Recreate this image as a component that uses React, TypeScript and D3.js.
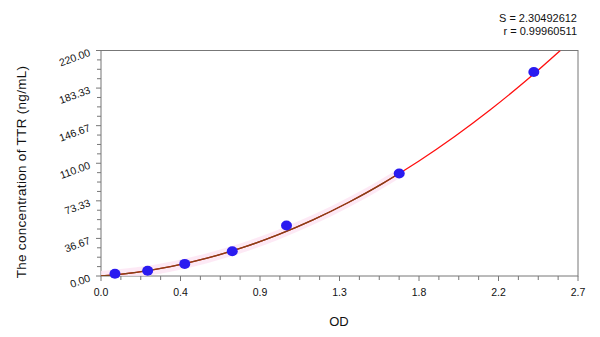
import React from "react";
import * as d3 from "d3";

const odValues = [0.079, 0.264, 0.474, 0.743, 1.05, 1.688, 2.45];
const concValues = [2.2, 5.2, 11.8, 24.2, 49.2, 100, 199];

const curveOD = [0, 0.2, 0.4, 0.6, 0.8, 1.0, 1.2, 1.4, 1.6, 1.8, 2.0, 2.2, 2.4, 2.6];
const curveConc = [0, 3.56, 9.35, 17.37, 27.62, 40.09, 54.79, 71.72, 90.87, 112.25, 135.86, 161.7, 189.76, 220.05];

const xTickValues = [0, 0.45, 0.9, 1.35, 1.8, 2.25, 2.7];
const xTickLabels = ["0.0", "0.4", "0.9", "1.3", "1.8", "2.2", "2.7"];
const yTickValues = [0, 36.667, 73.333, 110, 146.667, 183.333, 220];
const yTickLabels = ["0.00", "36.67", "73.33", "110.00", "146.67", "183.33", "220.00"];

const statLines = ["S = 2.30492612", "r = 0.99960511"];
const xTitle = "OD";
const yTitle = "The concentration of TTR (ng/mL)";
const fitSplitOD = 1.69;

export default function App() {
  const W = 600, H = 337;
  const L = 101, R = 578, T = 50.5, B = 276;
  const x = d3.scaleLinear().domain([0, 2.7]).range([L, R]);
  const y = d3.scaleLinear().domain([0, 220]).range([B, T]);
  const font = "'Liberation Sans', Arial, sans-serif";
  const axisColor = "#777";

  const curvePts: [number, number][] = curveOD.map((d, i) => [d, curveConc[i]]);
  const line = d3.line<[number, number]>().x(d => x(d[0])).y(d => y(d[1])).curve(d3.curveMonotoneX);

  const splitConc = d3.scaleLinear().domain(curveOD).range(curveConc)(fitSplitOD);
  const lowerPts: [number, number][] = curvePts.filter(p => p[0] < fitSplitOD).concat([[fitSplitOD, splitConc]]);

  const band = d3.area<[number, number]>()
    .x(d => x(d[0]))
    .y0(d => y(d[1]) + 5)
    .y1(d => y(d[1]) - 5)
    .curve(d3.curveMonotoneX);

  const xMinor: number[] = [];
  for (let i = 0; i < xTickValues.length - 1; i++) {
    const a = xTickValues[i], b = xTickValues[i + 1];
    for (let k = 1; k < 4; k++) xMinor.push(a + ((b - a) * k) / 4);
  }
  const yMinor: number[] = [];
  for (let i = 0; i < yTickValues.length - 1; i++) {
    const a = yTickValues[i], b = yTickValues[i + 1];
    for (let k = 1; k < 4; k++) yMinor.push(a + ((b - a) * k) / 4);
  }

  return (
    <svg width={W} height={H} style={{ position: "absolute", left: 0, top: 0, background: "#fff" }} fontFamily={font}>
      <rect x={0} y={0} width={W} height={H} fill="#fff" />
      <defs>
        <clipPath id="plotClip">
          <rect x={L} y={T} width={R - L} height={B - T} />
        </clipPath>
      </defs>

      {statLines.map((s, i) => (
        <text key={s} x={577} y={21.5 + i * 13} textAnchor="end" fontSize={11} fill="#111">{s}</text>
      ))}

      <rect x={L} y={T} width={R - L} height={B - T} fill="none" stroke={axisColor} strokeWidth={1} />

      {xTickValues.map((v, i) => (
        <g key={"xt" + i}>
          <line x1={x(v)} x2={x(v)} y1={B} y2={B + 5} stroke={axisColor} />
          <text x={x(v)} y={B + 20} textAnchor="middle" fontSize={10.5} fill="#111">{xTickLabels[i]}</text>
        </g>
      ))}
      {xMinor.map((v, i) => (
        <line key={"xm" + i} x1={x(v)} x2={x(v)} y1={B} y2={B + 4} stroke={axisColor} />
      ))}

      {yTickValues.map((v, i) => (
        <g key={"yt" + i}>
          <line x1={L - 5} x2={L} y1={y(v)} y2={y(v)} stroke={axisColor} />
          <text
            transform={`translate(${91},${y(v) + 5}) rotate(-20)`}
            textAnchor="end"
            fontSize={10.5}
            fill="#111"
          >{yTickLabels[i]}</text>
        </g>
      ))}
      {yMinor.map((v, i) => (
        <line key={"ym" + i} x1={L - 4} x2={L} y1={y(v)} y2={y(v)} stroke={axisColor} />
      ))}

      <g clipPath="url(#plotClip)">
        <path d={band(lowerPts) || ""} fill="#fde3f2" opacity={0.8} />
        <path d={line(curvePts) || ""} fill="none" stroke="#ff1010" strokeWidth={1.3} />
        <path d={line(lowerPts) || ""} fill="none" stroke="#7d4419" strokeWidth={1.3} />
      </g>

      {odValues.map((v, i) => (
        <ellipse key={"p" + i} cx={x(v)} cy={y(concValues[i])} rx={5.5} ry={5} fill="#2a1bf0" />
      ))}

      <text x={339} y={326} textAnchor="middle" fontSize={13} fill="#111">{xTitle}</text>
      <text
        transform={`translate(26,172) rotate(-90)`}
        textAnchor="middle"
        fontSize={13.5}
        fill="#111"
        letterSpacing={0.3}
      >{yTitle}</text>
    </svg>
  );
}
